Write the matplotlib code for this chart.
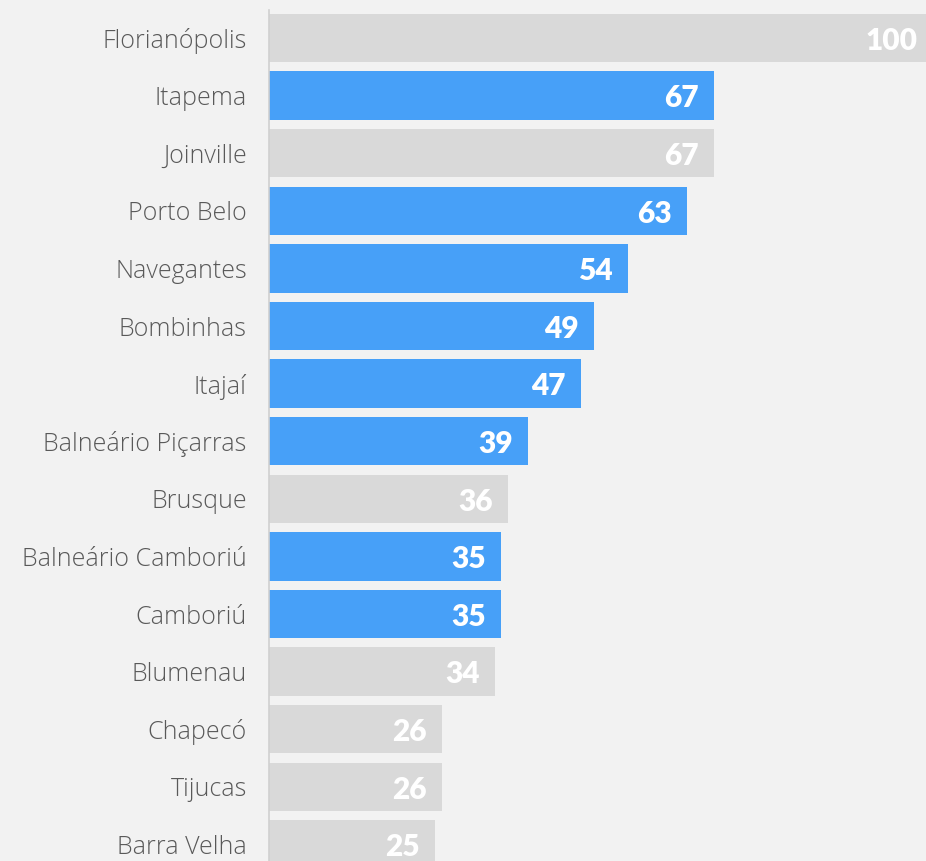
import matplotlib.pyplot as plt

cidades = ['Florianópolis', 'Itapema', 'Joinville', 'Porto Belo', 'Navegantes',
           'Bombinhas', 'Itajaí', 'Balneário Piçarras', 'Brusque',
           'Balneário Camboriú', 'Camboriú', 'Blumenau', 'Chapecó', 'Tijucas',
           'Barra Velha']
valores = [100, 67, 67, 63, 54, 49, 47, 39, 36, 35, 35, 34, 26, 26, 25]
destaque = [False, True, False, True, True, True, True, True, False,
            True, True, False, False, False, False]

AZUL = '#47a0f8'
CINZA = '#d9d9d9'
FUNDO = '#f2f2f2'

fig = plt.figure(figsize=(9.26, 8.61), dpi=100, facecolor=FUNDO)
ax = fig.add_axes([269 / 926, 0, 657 / 926, 1])
ax.set_facecolor(FUNDO)

pos = list(range(len(cidades)))
cores = [AZUL if d else CINZA for d in destaque]
ax.barh(pos, valores, height=0.84, color=cores, zorder=2)

for p, v in zip(pos, valores):
    ax.text(v - 2.3, p + 0.05, str(v), ha='right', va='center', color='white',
            fontsize=21.5, fontweight='heavy', family='Lato', zorder=3)

ax.set_xlim(0, 657 / 6.64)
ax.set_ylim((861 - 38) / 57.6, -38 / 57.6)

ax.set_yticks(pos)
ax.set_yticklabels(cidades, fontsize=18, color='#595959', family='Open Sans',
                   fontweight='light')
ax.tick_params(axis='y', length=0, pad=16)
ax.set_xticks([])

for s in ['top', 'right', 'bottom']:
    ax.spines[s].set_visible(False)
ax.spines['left'].set_color('#d0d0d0')
ax.spines['left'].set_linewidth(1.2)
ax.spines['left'].set_bounds((861 - 38) / 57.6, (10 - 38) / 57.6)

fig.savefig('out.png', dpi=100, facecolor=FUNDO)
